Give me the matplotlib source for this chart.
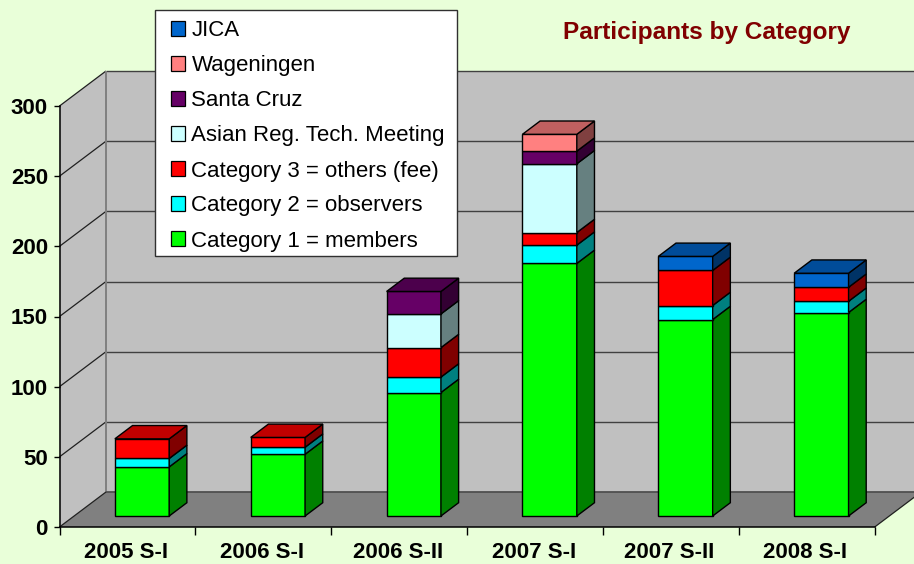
import matplotlib
matplotlib.use('Agg')
import matplotlib.pyplot as plt
from matplotlib.patches import Polygon, Patch, Rectangle

plt.rcParams['font.family'] = ['Liberation Sans', 'DejaVu Sans']

# datos
categorias = ['2005 S-I', '2006 S-I', '2006 S-II', '2007 S-I', '2007 S-II', '2008 S-I']
cat1 = [35, 44, 88, 180, 140, 145]
cat2 = [6, 5, 11, 13, 10, 8]
cat3 = [14, 7, 21, 9, 25, 10]
asian = [0, 0, 24, 49, 0, 0]
santa_cruz = [0, 0, 16, 9, 0, 0]
wageningen = [0, 0, 0, 12, 0, 0]
jica = [0, 0, 0, 0, 10, 10]

series = [cat1, cat2, cat3, asian, santa_cruz, wageningen, jica]
nombres = ['Category 1 = members', 'Category 2 = observers', 'Category 3 = others (fee)',
           'Asian Reg. Tech. Meeting', 'Santa Cruz', 'Wageningen', 'JICA']
# (frente, lado, arriba)
colores = [('#00FF00', '#008000', '#00C000'),
           ('#00FFFF', '#008080', '#00C0C0'),
           ('#FF0000', '#800000', '#C00000'),
           ('#CCFFFF', '#668080', '#99C0C0'),
           ('#660066', '#330033', '#4C004C'),
           ('#FF8080', '#804040', '#C06060'),
           ('#0066CC', '#003366', '#004C99')]
y_ticks = [0, 50, 100, 150, 200, 250, 300]

FONDO = '#E9FFD9'
PARED = '#C0C0C0'
PISO = '#808080'

W, H = 914, 564
fig = plt.figure(figsize=(W / 100, H / 100), dpi=100, facecolor=FONDO)
# plano frontal del grafico, en pixeles
ax = fig.add_axes([59.5 / W, 1 - 527 / H, 815.2 / W, 421 / H])
ax.set_xlim(0, 6)
ax.set_ylim(0, 300)
ax.patch.set_visible(False)

# desplazamiento de profundidad en unidades de datos
DX = 46.5 / (815.2 / 6)
DY = 35 / (421 / 300)
D1, D2 = 0.314, 0.694
ANCHO = 0.4


def p(x, v, d=0.0):
    return (x + d * DX, v + d * DY)


def poly(puntos, cara, borde='none', lw=0.0, z=1):
    ax.add_patch(Polygon(puntos, closed=True, facecolor=cara, edgecolor=borde,
                         linewidth=lw, clip_on=False, zorder=z, joinstyle='miter'))


def linea(a, b, color, lw, z=1.5):
    ax.plot([a[0], b[0]], [a[1], b[1]], color=color, lw=lw, clip_on=False, zorder=z,
            solid_capstyle='butt')


# paredes y piso
poly([p(0, 0, 1), p(6, 0, 1), p(6, 300, 1), p(0, 300, 1)], PARED, z=1)
poly([p(0, 0), p(0, 0, 1), p(0, 300, 1), p(0, 300)], PARED, z=1)
for t in y_ticks[1:]:
    linea(p(0, t, 1), p(6, t, 1), '#404040', 1.0)
    linea(p(0, t), p(0, t, 1), '#202020', 0.9)
linea(p(0, 0, 1), p(0, 300, 1), PISO, 1.4)
poly([p(0, 0), p(6, 0), p(6, 0, 1), p(0, 0, 1)], PISO, z=1.6)
linea(p(0, 0, 1), p(6, 0, 1), '#505050', 1.3, z=1.7)
linea(p(0, 0), p(0, 0, 1), '#202020', 0.9, z=1.7)
linea(p(6, 0), p(6, 0, 1), '#202020', 0.9, z=1.7)

# barras apiladas
for i in range(len(categorias)):
    izq = i + 0.5 - ANCHO / 2
    der = i + 0.5 + ANCHO / 2
    base = 0
    ultimo = None
    for s, c in zip(series, colores):
        v = s[i]
        if v == 0:
            continue
        tope = base + v
        poly([p(izq, base, D1), p(der, base, D1), p(der, tope, D1), p(izq, tope, D1)],
             c[0], 'black', 1.0, z=3)
        poly([p(der, base, D1), p(der, base, D2), p(der, tope, D2), p(der, tope, D1)],
             c[1], 'black', 1.0, z=3)
        base = tope
        ultimo = c
    poly([p(izq, base, D1), p(der, base, D1), p(der, base, D2), p(izq, base, D2)],
         ultimo[2], 'black', 1.0, z=3)

# ejes
for lado in ['top', 'right']:
    ax.spines[lado].set_visible(False)
for lado in ['left', 'bottom']:
    ax.spines[lado].set_linewidth(1.1)
    ax.spines[lado].set_zorder(2)
ax.set_yticks(y_ticks)
ax.set_yticklabels([str(t) for t in y_ticks], fontsize=16, fontweight='bold')
ax.tick_params(axis='y', length=4.3, width=1.0, pad=4)
ax.set_xticks(range(7))
ax.set_xticklabels([])
ax.tick_params(axis='x', which='major', length=5.5, width=1.0)
ax.set_xticks([i + 0.49 for i in range(6)], minor=True)
ax.set_xticklabels(categorias, minor=True, fontsize=16, fontweight='bold')
ax.tick_params(axis='x', which='minor', length=0, pad=11)

fig.text(706.5 / W, 1 - 32.5 / H, 'Participants by Category', color='#800000', fontsize=17.6,
         fontweight='bold', ha='center', va='center')

# leyenda: el marco va aparte porque el margen izquierdo es mayor que el superior
ax.add_patch(Rectangle((155 / W, 1 - 256 / H), 302 / W, 246 / H, transform=fig.transFigure,
                       facecolor='white', edgecolor='#303030', linewidth=1.0,
                       clip_on=False, zorder=9))
handles = [Patch(facecolor=c[0], edgecolor='black', linewidth=0.9) for c in colores]
leg = ax.legend(handles[::-1], nombres[::-1], loc='upper left',
                bbox_to_anchor=(171 / W, 1 - 20.5 / H), bbox_transform=fig.transFigure,
                fontsize=16, frameon=False, borderaxespad=0, borderpad=0,
                labelspacing=0.63, handlelength=0.62, handleheight=0.62,
                handletextpad=0.3)
leg.set_zorder(10)

fig.savefig('out.png', dpi=100, facecolor=FONDO)
